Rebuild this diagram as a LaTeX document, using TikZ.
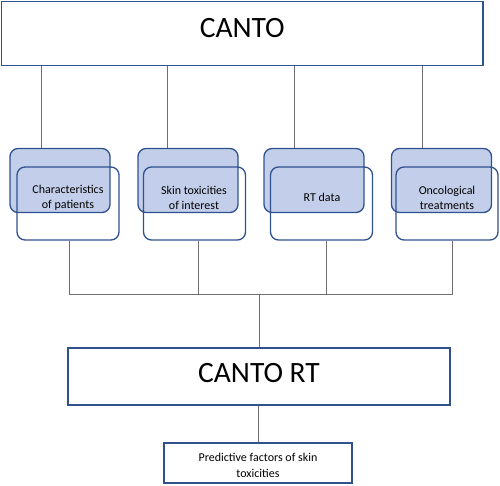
\documentclass[tikz,border=0pt]{standalone}
\usepackage{fontspec}
\setmainfont{Carlito}
\usetikzlibrary{positioning}
\definecolor{boxblue}{HTML}{2F528F}
\definecolor{boxfill}{HTML}{C3CFEA}
\definecolor{linegray}{HTML}{6E6E6E}

\begin{document}
\begin{tikzpicture}[x=1pt,y=-1pt,
    bigbox/.style={draw=boxblue,line width=1.3pt,fill=white,inner sep=0pt},
    backbox/.style={draw=boxblue,line width=1.3pt,fill=boxfill,rounded corners=8pt,
        minimum width=100pt,minimum height=64pt,inner sep=0pt},
    frontbox/.style={draw=boxblue,line width=1.3pt,rounded corners=8pt,
        minimum width=102pt,minimum height=73pt,inner sep=0pt},
    smalltext/.style={font=\fontsize{12}{15}\selectfont,align=center},
    link/.style={draw=linegray,line width=0.9pt}]

    \useasboundingbox (0,0) rectangle (500,486);

    % top box
    \node[bigbox,minimum width=481.5pt,minimum height=64pt] (canto) at (242.25,33.5) {};
    \node[font=\fontsize{29.5}{34}\selectfont] (cantotext) at (242.25,28) {CANTO};

    % four groups
    \node[backbox] (backa) at (60,180.5) {};
    \node[backbox] (backb) at (188,180.5) {};
    \node[backbox] (backc) at (314,180.5) {};
    \node[backbox] (backd) at (441.5,180.5) {};

    \node[frontbox] (fronta) at (68,203.5) {};
    \node[frontbox] (frontb) at (194.5,203.5) {};
    \node[frontbox] (frontc) at (321.5,203.5) {};
    \node[frontbox] (frontd) at (447,203.5) {};

    \node[smalltext] (texta) at (68,198) {Characteristics\\of patients};
    \node[smalltext] (textb) at (194,198) {Skin toxicities\\of interest};
    \node[smalltext] (textc) at (322,197) {RT data};
    \node[smalltext] (textd) at (447,198) {Oncological\\treatments};

    % links from CANTO
    \draw[link] (backa.north -| 41,0) -- (canto.south -| 41,0);
    \draw[link] (backb.north -| 167.5,0) -- (canto.south -| 167.5,0);
    \draw[link] (backc.north -| 294.5,0) -- (canto.south -| 294.5,0);
    \draw[link] (backd.north -| 422,0) -- (canto.south -| 422,0);

    % joining line
    \coordinate (joina) at (69,294);
    \coordinate (joind) at (452,294);
    \coordinate (joinmid) at (259,294);
    \draw[link] (fronta.south -| joina) -- (joina) -- (joind) -- (frontd.south -| joind);
    \draw[link] (frontb.south -| 198,0) -- (198,294);
    \draw[link] (frontc.south -| 326,0) -- (326,294);

    % CANTO RT
    \node[bigbox,minimum width=382pt,minimum height=57pt] (cantort) at (259,376.5) {};
    \node[font=\fontsize{29.5}{34}\selectfont] (cantorttext) at (259,373) {CANTO RT};
    \draw[link] (joinmid) -- (cantort.north);

    % result
    \node[bigbox,minimum width=188pt,minimum height=40pt] (predict) at (258,463) {};
    \node[smalltext,font=\fontsize{12}{16}\selectfont] (predicttext) at (258,465)
        {Predictive factors of skin\\toxicities};
    \draw[link] (cantort.south -| predict.north) -- (predict.north);
\end{tikzpicture}
\end{document}
